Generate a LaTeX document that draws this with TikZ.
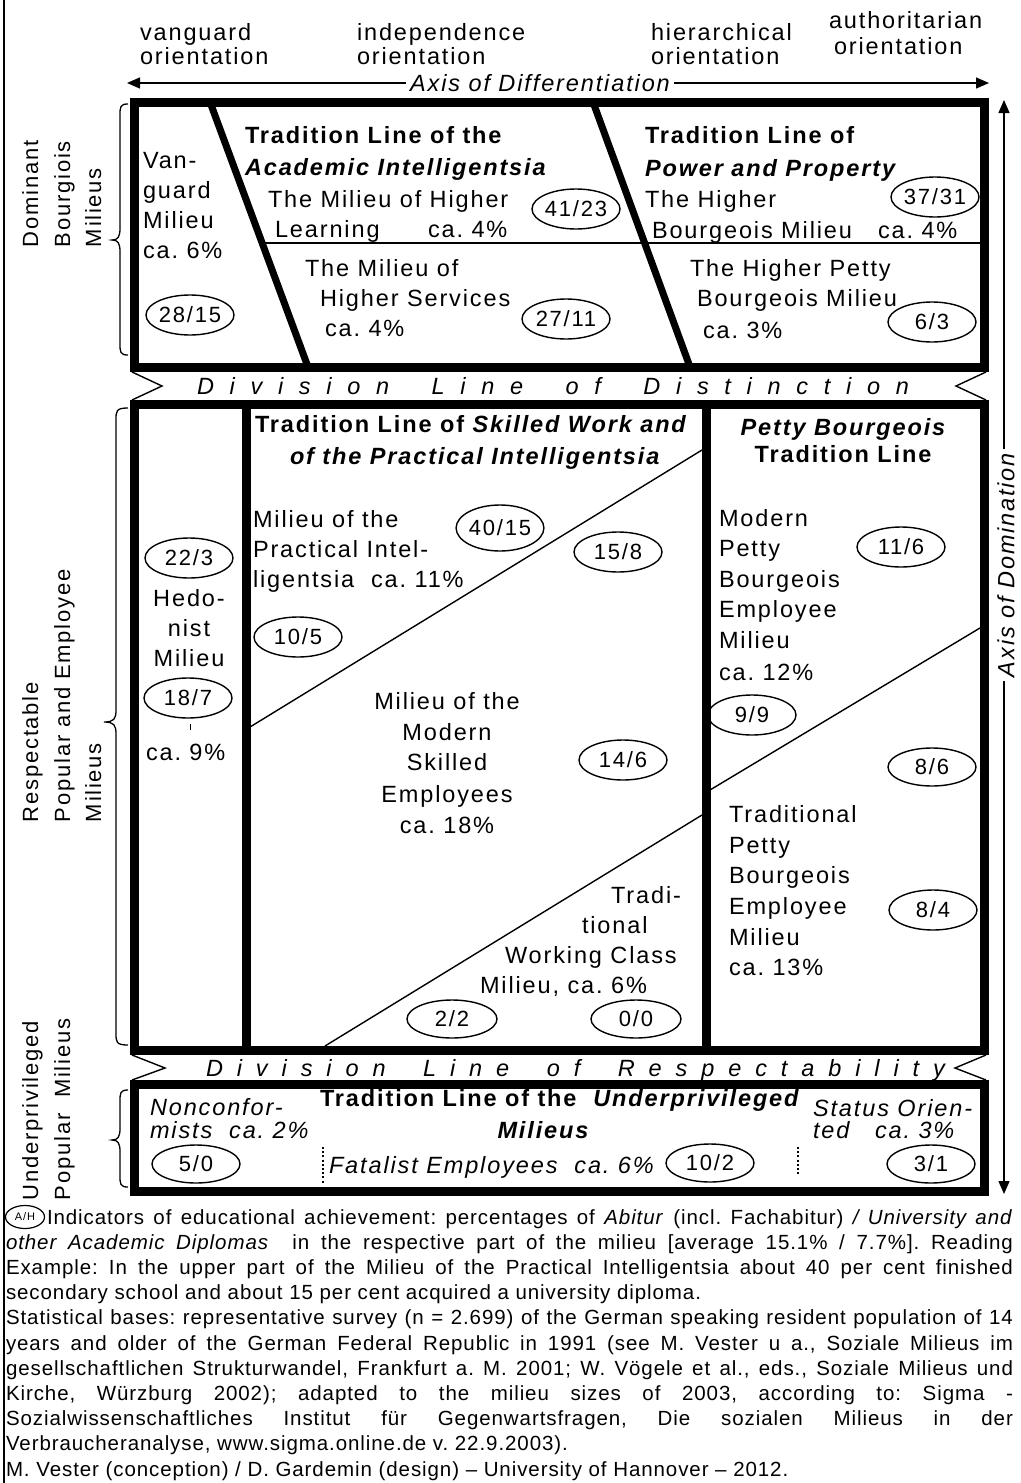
\documentclass[tikz,border=0pt]{standalone}
\usepackage{fontspec}
\setmainfont{Liberation Sans}[LetterSpace=8]
\newfontfamily\fnfont{Liberation Sans}[LetterSpace=4.5]
\usetikzlibrary{shapes.geometric,arrows.meta}
\newcommand\bracepath[5]{%
 \draw[brc] (#1,#2) .. controls ({#1-#5/2},#2) and ({#1-#5/2},{#2+3}) .. ({#1-#5/2},{#2+12}) -- ({#1-#5/2},{#3-12}) .. controls ({#1-#5/2},{#3-3}) and ({#1-#5/2-2},#3) .. ({#1-#5},#3) .. controls ({#1-#5/2-2},#3) and ({#1-#5/2},{#3+3}) .. ({#1-#5/2},{#3+12}) -- ({#1-#5/2},{#4-12}) .. controls ({#1-#5/2},{#4-3}) and ({#1-#5/2},#4) .. (#1,#4);}
\newcommand\gp{\hskip 0pt plus 1fil\relax}
\newcommand\gw{\hskip 0pt plus 2.7fil\relax}
\frenchspacing
\begin{document}
\begin{tikzpicture}[x=1pt,y=-1pt,
  every node/.style={inner sep=0pt, outer sep=0pt},
  txt/.style={font=\fontsize{23.5}{28}\selectfont, anchor=base west},
  txtc/.style={font=\fontsize{23.5}{28}\selectfont, anchor=base},
  txte/.style={font=\fontsize{23.5}{28}\selectfont, anchor=base east},
  btxt/.style={font=\fontsize{23.5}{28}\selectfont\bfseries, anchor=base west},
  btxtc/.style={font=\fontsize{23.5}{28}\selectfont\bfseries, anchor=base},
  itxt/.style={font=\fontsize{23.5}{28}\selectfont\itshape, anchor=base west},
  itxtc/.style={font=\fontsize{23.5}{28}\selectfont\itshape, anchor=base},
  side/.style={font=\fontsize{22}{26}\selectfont, anchor=base west, rotate=90},
  fn/.style={font=\fnfont\fontsize{20.5}{25}\selectfont\frenchspacing, anchor=base west},
  ell/.style={draw, ellipse, line width=1.4pt, minimum width=88pt, minimum height=40pt, font=\fontsize{22}{24}\selectfont},
  frame/.style={line width=9pt},
  bar/.style={line width=7pt},
  thin/.style={line width=1.4pt},
  brc/.style={line width=1.3pt},
  axis/.style={line width=1.4pt, {Triangle[length=13pt,width=11pt]}-{Triangle[length=13pt,width=11pt]}},
  dots/.style={line width=2pt, dash pattern=on 2pt off 2.2pt},
]
\useasboundingbox (0,0) rectangle (1020,1483);
\draw[line width=1.4pt] (4,0) -- (4,1483);

% ---------- top labels ----------
\node[txt] (v1) at (140,40) {vanguard};
\node[txt] (v2) at (140,64) {orientation};
\node[txt] (i1) at (357,40) {independence};
\node[txt] (i2) at (357,64) {orientation};
\node[txt] (h1) at (651,40) {hierarchical};
\node[txt] (h2) at (651,64) {orientation};
\node[txt] (a1) at (829,28) {authoritarian};
\node[txt] (a2) at (834,54) {orientation};

\coordinate (dl) at (127,83);
\coordinate (dr) at (989,83);
\draw[axis] (dl) -- (dr);
\node[font=\fontsize{23.5}{28}\selectfont\itshape, fill=white, inner xsep=4pt, inner ysep=2pt] (adiff) at (540,83) {Axis of Differentiation};

\coordinate (du) at (1004,100);
\coordinate (dd) at (1004,1194);
\draw[axis] (dd) -- (du);
\node[font=\fontsize{23.5}{28}\selectfont\itshape, fill=white, inner xsep=4pt, inner ysep=2pt, rotate=90] (adom) at (1006,565) {Axis of Domination};

% ---------- left side labels ----------
\node[side] (s1) at (38,247) {Dominant};
\node[side] (s2) at (70,247) {Bourgiois};
\node[side] (s3) at (101,247) {Milieus};
\node[side] (s4) at (38,822) {Respectable};
\node[side] (s5) at (70,822) {Popular and Employee};
\node[side] (s6) at (101,822) {Milieus};
\node[side] (s7) at (38,1200) {Underprivileged};
\node[side] (s8) at (70,1200) {Popular\ \ Milieus};
\bracepath{128}{104}{240}{355}{16}
\bracepath{128}{408}{722}{1045}{24}
\bracepath{128}{1090}{1140}{1187}{16}

% ---------- top box ----------
\node[txt] (t1) at (143,168) {Van-};
\node[txt] (t2) at (143,198) {guard};
\node[txt] (t3) at (143,228) {Milieu};
\node[txt] (t4) at (143,258) {ca. 6\%};
\node[ell] (e1) at (190,315) {28/15};

\node[btxt] (t5) at (245,143) {Tradition Line of the};
\node[btxt] (t6) at (245,175) {\itshape Academic Intelligentsia};
\node[txt] (t7) at (268,207) {The Milieu of Higher};
\node[txt] (t8) at (275,237) {Learning};
\node[txt] (t9) at (428,237) {ca. 4\%};
\node[ell] (e2) at (576,209) {41/23};
\node[txt] (t10) at (305,276) {The Milieu of};
\node[txt] (t11) at (320,306) {Higher Services};
\node[txt] (t12) at (325,336) {ca. 4\%};
\node[ell] (e3) at (566,319) {27/11};

\node[btxt] (t13) at (645,143) {Tradition Line of};
\node[btxt] (t14) at (645,176) {\itshape Power and Property};
\node[txt] (t15) at (645,207) {The Higher};
\node[txt] (t16) at (652,238) {Bourgeois Milieu};
\node[txt] (t17) at (878,238) {ca. 4\%};
\node[ell] (e4) at (935,197) {37/31};
\node[txt] (t18) at (690,276) {The Higher Petty};
\node[txt] (t19) at (697,306) {Bourgeois Milieu};
\node[txt] (t20) at (703,338) {ca. 3\%};
\node[ell] (e5) at (932,322) {6/3};

\coordinate (tb1) at (134,102);
\coordinate (tb2) at (984,367);
\coordinate (d1a) at (210,102);
\coordinate (d1b) at (308,367);
\coordinate (d2a) at (593,102);
\coordinate (d2b) at (690,367);
\coordinate (hl1) at (262,243);
\coordinate (hl2) at (984,243);
\draw[thin] (hl1) -- (hl2);
\draw[bar] (d1a) -- (d1b);
\draw[bar] (d2a) -- (d2b);
\draw[frame] (tb1) rectangle (tb2);

% ---------- distinction ribbon ----------
\coordinate (r1a) at (132,372); \coordinate (r1t) at (162,386); \coordinate (r1b) at (132,400);
\coordinate (r2a) at (986,372); \coordinate (r2t) at (956,386); \coordinate (r2b) at (986,400);
\draw[thin] (r1a) -- (r1t) -- (r1b);
\draw[thin] (r2a) -- (r2t) -- (r2b);
\node[itxt] (rib1) at (197,394) {\makebox[712pt][s]{D\gp i\gp v\gp i\gp s\gp i\gp o\gp n\gw L\gp i\gp n\gp e\gw o\gp f\gw D\gp i\gp s\gp t\gp i\gp n\gp c\gp t\gp i\gp o\gp n}};

% ---------- middle box ----------
\node[btxt] (m1) at (255,432) {Tradition Line of \itshape Skilled Work and};
\node[btxt] (m2) at (290,464) {\itshape of the Practical Intelligentsia};
\node[txt] (m3) at (253,527) {Milieu of the};
\node[txt] (m4) at (253,557) {Practical Intel-};
\node[txt] (m5) at (253,587) {ligentsia\ \ ca. 11\%};
\node[ell, minimum width=86pt, minimum height=46pt] (e6) at (500,528) {40/15};
\node[ell] (e7) at (618,552) {15/8};
\node[ell] (e8) at (298,637) {10/5};

\node[ell] (e9) at (189,558) {22/3};
\node[txtc] (m6) at (189,606) {Hedo-};
\node[txtc] (m7) at (189,636) {nist};
\node[txtc] (m8) at (189,666) {Milieu};
\node[ell] (e10) at (188,698) {18/7};
\coordinate (tk1) at (190,724); \coordinate (tk2) at (190,730);
\draw[line width=1pt] (tk1) -- (tk2);
\node[txt] (m9) at (146,760) {ca. 9\%};

\node[txtc] (m10) at (447,709) {Milieu of the};
\node[txtc] (m11) at (447,740) {Modern};
\node[txtc] (m12) at (447,770) {Skilled};
\node[txtc] (m13) at (447,802) {Employees};
\node[txtc] (m14) at (447,833) {ca. 18\%};
\node[ell] (e11) at (623,760) {14/6};

\node[txte] (m15) at (681,903) {Tradi-};
\node[txt] (m16) at (582,933) {tional};
\node[txt] (m17) at (505,963) {Working Class};
\node[txt] (m18) at (480,993) {Milieu, ca. 6\%};
\node[ell, minimum width=90pt, minimum height=38pt] (e12) at (452,1019) {2/2};
\node[ell, minimum width=90pt, minimum height=38pt] (e13) at (636,1019) {0/0};

\node[btxtc] (p1) at (843,435) {\itshape Petty Bourgeois};
\node[btxtc] (p2) at (843,462) {Tradition Line};
\node[txt] (p3) at (719,526) {Modern};
\node[txt] (p4) at (719,556) {Petty};
\node[txt] (p5) at (719,587) {Bourgeois};
\node[txt] (p6) at (719,617) {Employee};
\node[txt] (p7) at (719,648) {Milieu};
\node[txt] (p8) at (719,680) {ca. 12\%};
\node[ell] (e14) at (901,547) {11/6};
\node[ell] (e15) at (752,715) {9/9};
\node[ell, minimum height=38pt] (e16) at (932,767) {8/6};
\node[txt] (p9) at (729,822) {Traditional};
\node[txt] (p10) at (729,853) {Petty};
\node[txt] (p11) at (729,883) {Bourgeois};
\node[txt] (p12) at (729,914) {Employee};
\node[txt] (p13) at (729,945) {Milieu};
\node[txt] (p14) at (729,975) {ca. 13\%};
\node[ell] (e17) at (933,910) {8/4};

\coordinate (mb1) at (134,404);
\coordinate (mb2) at (984,1050);
\coordinate (c1a) at (246,404); \coordinate (c1b) at (246,1050);
\coordinate (c2a) at (706,404); \coordinate (c2b) at (706,1050);
\coordinate (l1a) at (250,727); \coordinate (l1b) at (702,450);
\coordinate (l2a) at (325,1046); \coordinate (l2b) at (702,815);
\coordinate (l3a) at (710,790); \coordinate (l3b) at (980,628);
\draw[thin] (l1a) -- (l1b);
\draw[thin] (l2a) -- (l2b);
\draw[thin] (l3a) -- (l3b);
\draw[frame] (c1a) -- (c1b);
\draw[frame] (c2a) -- (c2b);
\draw[frame] (mb1) rectangle (mb2);

% ---------- respectability ribbon ----------
\coordinate (q1a) at (132,1055); \coordinate (q1t) at (165,1068); \coordinate (q1b) at (132,1080);
\coordinate (q2a) at (986,1055); \coordinate (q2t) at (955,1068); \coordinate (q2b) at (986,1080);
\draw[thin] (q1a) -- (q1t) -- (q1b);
\draw[thin] (q2a) -- (q2t) -- (q2b);
\node[itxt] (rib2) at (206,1076) {\makebox[739pt][s]{D\gp i\gp v\gp i\gp s\gp i\gp o\gp n\gw L\gp i\gp n\gp e\gw o\gp f\gw R\gp e\gp s\gp p\gp e\gp c\gp t\gp a\gp b\gp i\gp l\gp i\gp t\gp y}};

% ---------- bottom box ----------
\node[itxt] (b1) at (150,1115) {Nonconfor-};
\node[itxt] (b2) at (150,1138) {mists\ \ ca. 2\%};
\node[ell, minimum height=38pt] (e18) at (196,1164) {5/0};
\node[btxt] (b3) at (320,1106) {Tradition Line of the\ \ \itshape Underprivileged};
\node[btxtc] (b4) at (543,1138) {\itshape Milieus};
\node[itxt] (b5) at (329,1173) {Fatalist Employees\ \ ca. 6\%};
\node[ell, minimum height=38pt] (e19) at (710,1163) {10/2};
\node[itxt] (b6) at (813,1116) {Status Orien-};
\node[itxt] (b7) at (813,1138) {ted};
\node[itxt] (b8) at (875,1138) {ca. 3\%};
\node[ell, minimum height=38pt] (e20) at (931,1164) {3/1};
\coordinate (o1a) at (323,1147); \coordinate (o1b) at (323,1184);
\coordinate (o2a) at (798,1147); \coordinate (o2b) at (798,1176);
\draw[dots] (o1a) -- (o1b);
\draw[dots] (o2a) -- (o2b);
\coordinate (bb1) at (134,1084);
\coordinate (bb2) at (984,1191);
\draw[frame] (bb1) rectangle (bb2);

% ---------- footnote ----------
\node[draw, ellipse, line width=1.2pt, minimum width=39pt, minimum height=23pt, font=\fontsize{11}{12}\selectfont] (ah) at (25,1217) {A/H};
\node[fn] (f1) at (47,1224) {\makebox[966pt][s]{Indicators of educational achievement: percentages of \textit{Abitur} (incl. Fachabitur) \textit{/ University and}}};
\node[fn] (f2) at (6,1249) {\makebox[1007pt][s]{\textit{other Academic Diplomas}\ \ in the respective part of the milieu [average 15.1\% / 7.7\%]. Reading}};
\node[fn] (f3) at (6,1274) {\makebox[1007pt][s]{Example: In the upper part of the Milieu of the Practical Intelligentsia about 40 per cent finished}};
\node[fn] (f4) at (6,1299) {secondary school and about 15 per cent acquired a university diploma.};
\node[fn] (f5) at (6,1324) {\makebox[1007pt][s]{Statistical bases: representative survey (n = 2.699) of the German speaking resident population of 14}};
\node[fn] (f6) at (6,1350) {\makebox[1007pt][s]{years and older of the German Federal Republic in 1991 (see M. Vester u a., Soziale Milieus im}};
\node[fn] (f7) at (6,1375) {\makebox[1007pt][s]{gesellschaftlichen Strukturwandel, Frankfurt a. M. 2001; W. Vögele et al., eds., Soziale Milieus und}};
\node[fn] (f8) at (6,1400) {\makebox[1007pt][s]{Kirche, Würzburg 2002); adapted to the milieu sizes of 2003, according to: Sigma -}};
\node[fn] (f9) at (6,1425) {\makebox[1007pt][s]{Sozialwissenschaftliches Institut für Gegenwartsfragen, Die sozialen Milieus in der}};
\node[fn] (f10) at (6,1450) {Verbraucheranalyse, www.sigma.online.de v. 22.9.2003).};
\node[fn] (f11) at (6,1476) {M. Vester (conception) / D. Gardemin (design) – University of Hannover – 2012.};
\end{tikzpicture}
\end{document}
